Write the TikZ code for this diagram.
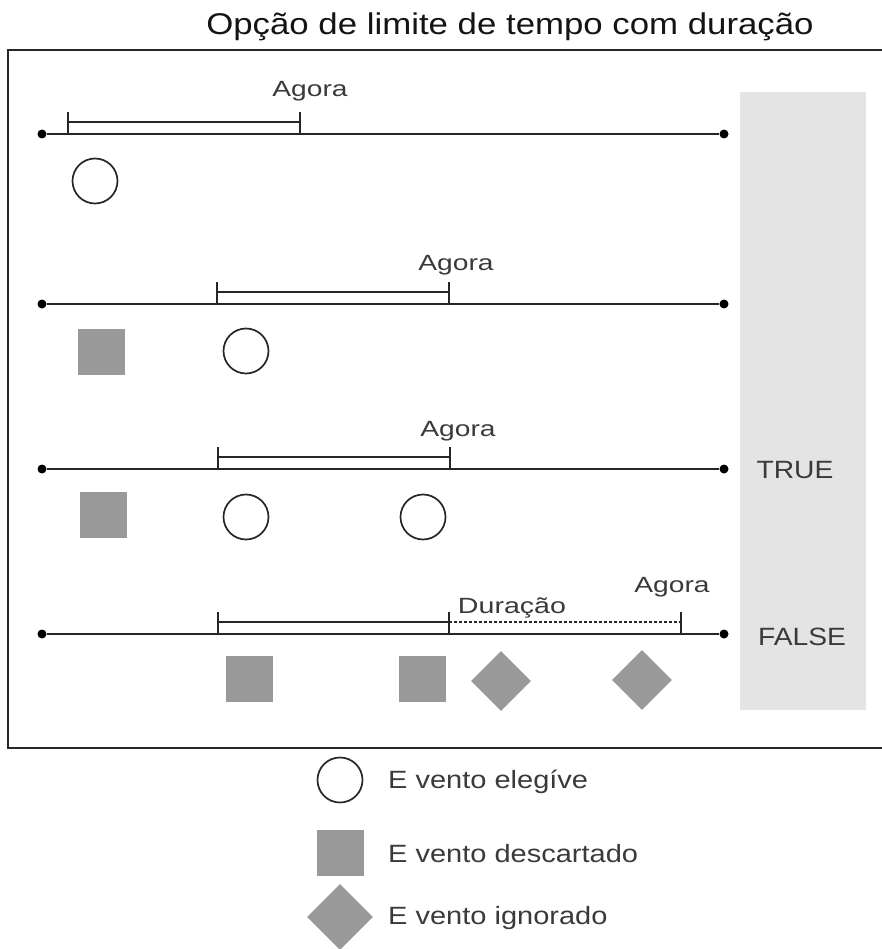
\documentclass[tikz,border=0pt]{standalone}
\usepackage{fontspec}
\usepackage{graphicx}
\setmainfont{Liberation Sans}
\usetikzlibrary{shapes.geometric}
\definecolor{txt}{HTML}{3A3A3A}
\definecolor{evgray}{HTML}{999999}
\definecolor{panel}{HTML}{E4E4E4}
\tikzset{
  tl/.style={line width=2.8pt, draw=black!85},
  br/.style={line width=2pt, draw=black!85},
  dotend/.style={circle, fill=black, inner sep=0pt, minimum size=9pt},
  elig/.style={ellipse, draw=black!85, line width=1.7pt, fill=white, minimum width=45pt, minimum height=45pt, inner sep=0pt},
  desc/.style={rectangle, fill=evgray, minimum width=47pt, minimum height=46pt, inner sep=0pt},
  ign/.style={diamond, fill=evgray, minimum width=60pt, minimum height=60pt, inner sep=0pt},
  lbl/.style={font=\fontsize{22}{26}\selectfont, text=txt, inner sep=0pt, anchor=base},
  res/.style={font=\fontsize{25}{29}\selectfont, text=txt, inner sep=0pt, anchor=base},
  leg/.style={font=\fontsize{25}{29}\selectfont, text=txt, inner sep=0pt, anchor=base west},
}
\newcommand{\widetxt}[2]{\scalebox{#1}[1]{#2}}
\begin{document}
\begin{tikzpicture}[x=1pt,y=-1pt]
\useasboundingbox (0,0) rectangle (882,949);
% title
\node[font=\fontsize{30}{34}\selectfont, text=black!92, inner sep=0pt, anchor=base] (title) at (510,35) {\widetxt{1.16}{Opção de limite de tempo com duração}};
% frame
\draw[line width=2pt, draw=black!85] (890,50) -- (8,50) -- (8,748) -- (890,748);
% panel
\fill[panel] (740,92) rectangle (866,710);
\node[res] (true) at (795,478) {\widetxt{1.13}{TRUE}};
\node[res] (false) at (802,645) {\widetxt{1.13}{FALSE}};

% ---- timeline 1
\node[dotend] (a1) at (42,134) {};
\node[dotend] (b1) at (724,134) {};
\draw[tl] (a1) -- (b1);
\coordinate (s1) at (68,134); \coordinate (e1) at (300,134);
\draw[br] (68,112) -- (s1);
\draw[br] (300,112) -- (e1);
\draw[br] (68,122) -- (300,122);
\node[lbl] (ag1) at (310,97) {\widetxt{1.28}{Agora}};
\node[elig] (c11) at (95,181) {};

% ---- timeline 2
\node[dotend] (a2) at (42,304) {};
\node[dotend] (b2) at (724,304) {};
\draw[tl] (a2) -- (b2);
\draw[br] (217,282) -- (217,304);
\draw[br] (449,282) -- (449,304);
\draw[br] (217,292) -- (449,292);
\node[lbl] (ag2) at (456,270) {\widetxt{1.28}{Agora}};
\node[desc] (d21) at (101,352) {};
\node[elig] (c21) at (246,351) {};

% ---- timeline 3
\node[dotend] (a3) at (42,469) {};
\node[dotend] (b3) at (724,469) {};
\draw[tl] (a3) -- (b3);
\draw[br] (218,447) -- (218,469);
\draw[br] (450,447) -- (450,469);
\draw[br] (218,457) -- (450,457);
\node[lbl] (ag3) at (458,436) {\widetxt{1.28}{Agora}};
\node[desc] (d31) at (103,515) {};
\node[elig] (c31) at (246,517) {};
\node[elig] (c32) at (423,517) {};

% ---- timeline 4
\node[dotend] (a4) at (42,634) {};
\node[dotend] (b4) at (724,634) {};
\draw[tl] (a4) -- (b4);
\draw[br] (218,612) -- (218,634);
\draw[br] (449,612) -- (449,634);
\draw[br] (681,612) -- (681,634);
\draw[br] (218,622) -- (449,622);
\draw[line width=1.8pt, draw=black!85, dash pattern=on 3pt off 2pt] (449,622) -- (681,622);
\node[lbl] (dur) at (512,613) {\widetxt{1.3}{Duração}};
\node[lbl] (ag4) at (672,592) {\widetxt{1.28}{Agora}};
\node[desc] (d41) at (249,679) {};
\node[desc] (d42) at (422,679) {};
\node[ign] (g41) at (501,681) {};
\node[ign] (g42) at (642,680) {};

% ---- legend
\node[elig] (lc) at (340,780) {};
\node[leg] (lct) at (388,788) {\widetxt{1.16}{E vento elegíve}};
\node[desc] (ld) at (340,853) {};
\node[leg] (ldt) at (388,862) {\widetxt{1.16}{E vento descartado}};
\node[ign, minimum width=66pt, minimum height=66pt] (lg) at (340,917) {};
\node[leg] (lgt) at (388,924) {\widetxt{1.16}{E vento ignorado}};
\end{tikzpicture}
\end{document}
